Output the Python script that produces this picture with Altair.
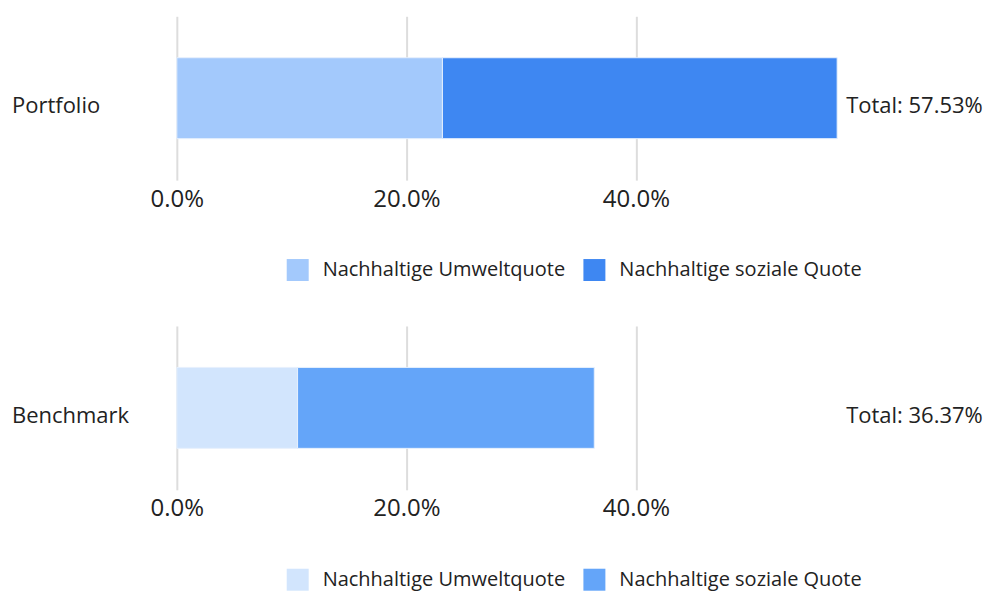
import altair as alt
import pandas as pd

rows = ["Portfolio", "Benchmark"]
categories = ["Nachhaltige Umweltquote", "Nachhaltige soziale Quote"]
umwelt = [23.14, 10.52]
sozial = [34.39, 25.85]
totals = ["Total: 57.53%", "Total: 36.37%"]
tick_values = [0, 20, 40]
x_max = 57.53
palettes = [["#A3C9FC", "#3E87F2"], ["#D2E5FD", "#64A5F9"]]

FONT = "Open Sans"


def panel(i):
    df = pd.DataFrame({
        "row": [rows[i]] * 2,
        "cat": categories,
        "val": [umwelt[i], sozial[i]],
        "ord": [0, 1],
    })
    lab = pd.DataFrame({"row": [rows[i]], "total": [totals[i]]})
    bars = alt.Chart(df).mark_bar(size=81, stroke="#E6F0FD", strokeWidth=1).encode(
        x=alt.X("val:Q", stack="zero",
                scale=alt.Scale(domain=[0, x_max], nice=False, zero=True),
                axis=alt.Axis(values=tick_values, title=None, grid=True,
                              gridColor="#DDDDDD", gridWidth=2, domain=False,
                              ticks=False, labelFontSize=24, labelFont=FONT,
                              labelColor="#222222", labelPadding=7,
                              labelFlush=False,
                              labelExpr="format(datum.value, '.1f') + '%'")),
        y=alt.Y("row:N", axis=None),
        color=alt.Color("cat:N",
                        scale=alt.Scale(domain=categories, range=palettes[i]),
                        legend=alt.Legend(title=None, orient="none", legendX=110,
                                          legendY=243, direction="horizontal",
                                          symbolType="square", symbolSize=484,
                                          symbolStrokeWidth=0, labelFontSize=20,
                                          labelFont=FONT, labelColor="#222222",
                                          labelOffset=14, columnPadding=18,
                                          labelLimit=0, padding=0)),
        order=alt.Order("ord:Q"),
    )
    name = alt.Chart(lab).mark_text(align="left", fontSize=22, font=FONT,
                                    color="#222222", dy=8).encode(
        x=alt.value(-165), y=alt.Y("row:N", axis=None), text="row:N")
    tot = alt.Chart(lab).mark_text(align="left", fontSize=22, font=FONT,
                                   color="#222222", dy=8).encode(
        x=alt.value(670), y=alt.Y("row:N", axis=None), text="total:N")
    return alt.layer(bars, name, tot).properties(width=661, height=164)


chart = alt.vconcat(panel(0), panel(1), spacing=45).resolve_scale(
    color="independent").resolve_legend(color="independent").properties(
    padding={"left": 4, "top": 8, "right": 2, "bottom": 2}
).configure_view(stroke=None)

chart.save("out.html", embed_options={"renderer": "svg", "actions": False})
